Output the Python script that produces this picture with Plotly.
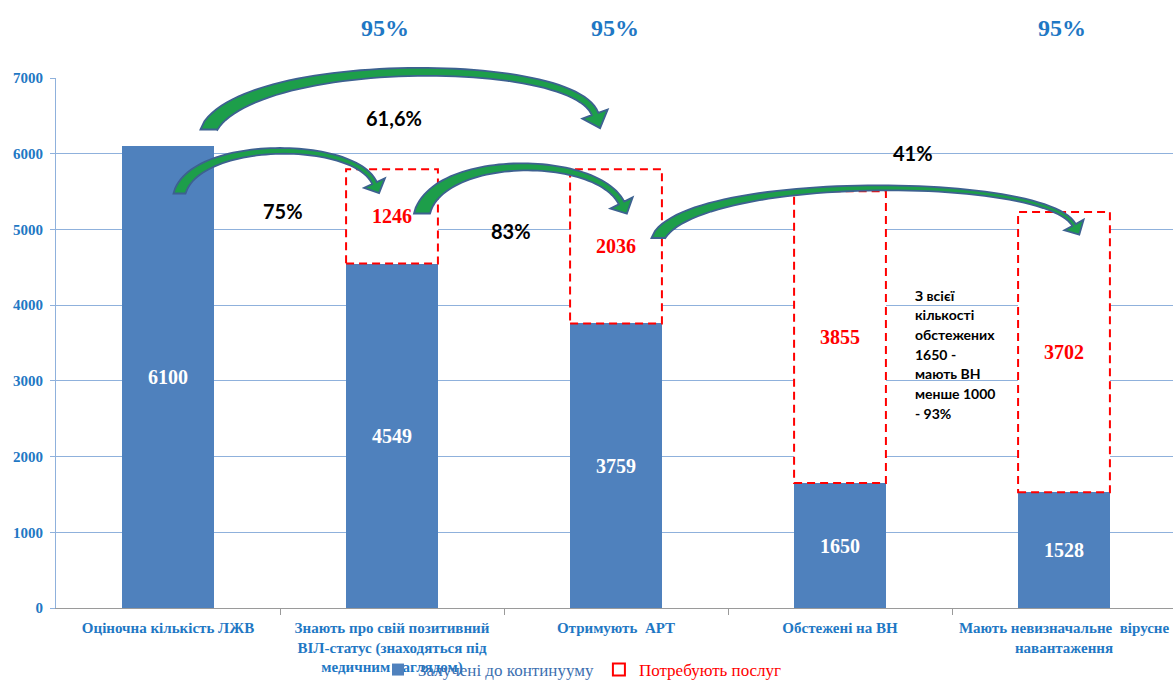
import plotly.graph_objects as go

# ---------------- data ----------------
categories = [
    "Оціночна кількість ЛЖВ",
    "Знають про свій позитивний<br>ВІЛ-статус (знаходяться під<br>медичним наглядом)",
    "Отримують  АРТ",
    "Обстежені на ВН",
    "Мають невизначальне  вірусне<br>навантаження",
]
engaged = [6100, 4549, 3759, 1650, 1528]          # Залучені до континууму
need_services = [None, 1246, 2036, 3855, 3702]    # Потребують послуг
y_ticks = [0, 1000, 2000, 3000, 4000, 5000, 6000, 7000]
top_pct_labels = ["95%", "95%", "95%"]
step_pct_labels = ["61,6%", "75%", "83%", "41%"]
note_lines = ["З всієї", "кількості", "обстежених", "1650 -", "мають ВН", "менше 1000", "- 93%"]

# ---------------- style ----------------
W, H = 1173, 682
ML, MR, MT, MB = 56, 0, 78, 74
CAT_PX = 224.0
BAR_W = 0.41
plot_w = W - ML - MR
plot_h = H - MT - MB
YMAX = 7000
x_range = [-0.5, -0.5 + plot_w / CAT_PX]

BLUE_BAR = "#4F81BD"
TXT_BLUE = "#1F78C4"
GRID = "#8FB1DC"
SERIF = "Liberation Serif, Times New Roman, serif"
SANS = "Lato, Calibri, sans-serif"


def to_data(px, py):
    return ((px - ML) / CAT_PX - 0.5, (MT + plot_h - py) * YMAX / plot_h)


def to_paper(px, py):
    return ((px - ML) / plot_w, (MT + plot_h - py) / plot_h)


def arrow_path(tail, head, peak, t0, t1, hw, hl, k0, r, n=56):
    (x0, y0), (x3, y3) = tail, head
    b = (y0 + y3) / 2.0
    c = b - (b - peak) / 0.75
    w = x3 - x0
    P0 = (x0, y0)
    P1 = (x0 + k0 * w, c)
    P2 = (x3 - r * (y3 - c), c)
    P3 = (x3, y3)

    def bez(s):
        u = 1 - s
        x = u**3 * P0[0] + 3 * u * u * s * P1[0] + 3 * u * s * s * P2[0] + s**3 * P3[0]
        y = u**3 * P0[1] + 3 * u * u * s * P1[1] + 3 * u * s * s * P2[1] + s**3 * P3[1]
        dx = 3 * u * u * (P1[0] - P0[0]) + 6 * u * s * (P2[0] - P1[0]) + 3 * s * s * (P3[0] - P2[0])
        dy = 3 * u * u * (P1[1] - P0[1]) + 6 * u * s * (P2[1] - P1[1]) + 3 * s * s * (P3[1] - P2[1])
        L = (dx * dx + dy * dy) ** 0.5
        return x, y, dx / L, dy / L

    outer, inner = [], []
    for i in range(n + 1):
        s = i / n
        x, y, tx, ty = bez(s)
        nx, ny = ty, -tx
        t = t1 + (t0 - t1) * (1 - s) ** 3
        if i == 0:
            outer.append((x - t0 / 2, y))
            inner.append((x + t0 / 2, y))
        else:
            outer.append((x + nx * t / 2, y + ny * t / 2))
            inner.append((x - nx * t / 2, y - ny * t / 2))
    x, y, tx, ty = bez(1.0)
    nx, ny = ty, -tx
    head_pts = [(x + nx * hw / 2, y + ny * hw / 2), (x + tx * hl, y + ty * hl), (x - nx * hw / 2, y - ny * hw / 2)]
    pts = outer + head_pts + inner[::-1]
    d = []
    for j, (px, py) in enumerate(pts):
        xp, yp = to_paper(px, py)
        d.append(("M" if j == 0 else "L") + f"{xp:.5f},{yp:.5f}")
    return " ".join(d) + " Z"


arrows = [
    dict(tail=(208.5, 129.5), head=(595, 114), peak=72, t0=16, t1=7, hw=27, hl=15, k0=0.10, r=0.36),
    dict(tail=(179.5, 193.5), head=(374.5, 183), peak=151, t0=12, t1=5, hw=23, hl=11, k0=0.08, r=0.46),
    dict(tail=(422, 213.5), head=(621.5, 203), peak=167, t0=16, t1=6, hw=25, hl=12, k0=0.08, r=0.50),
    dict(tail=(658, 238), head=(1074, 225), peak=188, t0=13, t1=4, hw=22, hl=11, k0=0.08, r=0.55),
]

xs = list(range(len(categories)))

fig = go.Figure()
fig.add_trace(go.Bar(
    x=xs, y=engaged, width=BAR_W,
    name='<span style="color:#3C6FB0">Залучені до континууму</span>',
    marker=dict(color=BLUE_BAR, line=dict(width=0)),
    text=[str(v) for v in engaged], texttemplate="%{text}",
    textposition="inside", insidetextanchor="middle", textangle=0,
    textfont=dict(family=SERIF, size=20, color="white", weight="bold"),
    hoverinfo="skip",
))
fig.add_trace(go.Bar(
    x=xs, y=need_services, width=BAR_W, showlegend=False,
    marker=dict(color="white", line=dict(width=0)),
    text=[("" if v is None else str(v)) for v in need_services], texttemplate="%{text}",
    textposition="inside", insidetextanchor="middle", textangle=0,
    textfont=dict(family=SERIF, size=20, color="#FF0000", weight="bold"),
    hoverinfo="skip",
))
# legend-only entry for the dashed "need services" boxes
fig.add_trace(go.Bar(
    x=[None], y=[None],
    name='<span style="color:#FF0000">Потребують послуг</span>',
    marker=dict(color="white", line=dict(color="#FF0000", width=2)),
))

shapes = []
for i, v in enumerate(need_services):
    if v is None:
        continue
    shapes.append(dict(
        type="rect", xref="x", yref="y",
        x0=i - BAR_W / 2, x1=i + BAR_W / 2, y0=engaged[i], y1=engaged[i] + v,
        line=dict(color="#FF0000", width=2, dash="8px,5px"),
        fillcolor="rgba(0,0,0,0)", layer="above",
    ))
for a in arrows:
    shapes.append(dict(
        type="path", xref="paper", yref="paper", path=arrow_path(**a),
        fillcolor="#1D9E4A", line=dict(color="#3D6190", width=1.8), layer="above",
    ))

annotations = []
top_pos = [(385, 28), (615, 28), (1062, 28)]
for lab, (px, py) in zip(top_pct_labels, top_pos):
    xp, yp = to_paper(px, py)
    annotations.append(dict(
        x=xp, y=yp, xref="paper", yref="paper", text=lab, showarrow=False,
        xanchor="center", yanchor="middle",
        font=dict(family=SERIF, size=24, color=TXT_BLUE, weight="bold"),
    ))
step_pos = [(394, 118), (283, 211), (511, 231), (913, 153)]
for lab, (px, py) in zip(step_pct_labels, step_pos):
    xd, yd = to_data(px, py)
    annotations.append(dict(
        x=xd, y=yd, xref="x", yref="y", text=lab, showarrow=False,
        xanchor="center", yanchor="middle",
        font=dict(family=SANS, size=20, color="black", weight="bold"),
    ))
for k, line in enumerate(note_lines):
    xd, yd = to_data(913, 295 + k * 19.7)
    annotations.append(dict(
        x=xd, y=yd, xref="x", yref="y", text=line, showarrow=False,
        xanchor="left", yanchor="middle",
        font=dict(family=SANS, size=14, color="black", weight="bold"),
    ))

fig.update_layout(
    width=W, height=H,
    margin=dict(l=ML, r=MR, t=MT, b=MB, pad=0, autoexpand=False),
    paper_bgcolor="white", plot_bgcolor="white",
    barmode="stack",
    shapes=shapes, annotations=annotations,
    showlegend=True,
    legend=dict(
        orientation="h", x=(378 - ML) / plot_w, xanchor="left",
        y=(608 - 670) / plot_h, yanchor="middle",
        font=dict(family=SERIF, size=17), bgcolor="rgba(0,0,0,0)", traceorder="normal",
        itemwidth=30,
    ),
    xaxis=dict(
        range=x_range, tickmode="array", tickvals=xs, ticktext=categories,
        ticks="", showgrid=False, zeroline=False, automargin=False,
        showline=True, linecolor="#9A9A9A", linewidth=1,
        tickfont=dict(family=SERIF, size=15, color=TXT_BLUE, weight="bold"),
        ticklabelstandoff=6,
        minor=dict(tickvals=[0.5, 1.5, 2.5, 3.5], ticks="outside", ticklen=6,
                   tickcolor="#9A9A9A", showgrid=False),
    ),
    yaxis=dict(
        range=[0, YMAX], tickmode="array", tickvals=y_ticks,
        showgrid=True, gridcolor=GRID, gridwidth=1, zeroline=False, automargin=False,
        showline=True, linecolor=GRID, linewidth=1,
        ticks="outside", ticklen=5, tickcolor=GRID,
        tickfont=dict(family=SERIF, size=15, color=TXT_BLUE, weight="bold"),
        ticklabelstandoff=4,
    ),
)

fig.write_html("out.html")
